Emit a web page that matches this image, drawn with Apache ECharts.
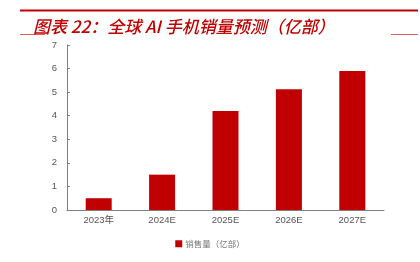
<!DOCTYPE html>
<html><head><meta charset="utf-8">
<script src="https://cdn.jsdelivr.net/npm/echarts@6/dist/echarts.min.js"></script>
<style>html,body{margin:0;padding:0;background:#fff}#c{width:420px;height:262px}</style>
</head><body><div id="c"></div>
<script>
const categories = ['2023年', '2024E', '2025E', '2026E', '2027E'];
const salesValues = [0.5, 1.5, 4.2, 5.12, 5.9];
const seriesName = '销售量（亿部）';
const titleText = '图表 22：全球 AI 手机销量预测（亿部）';

const chart = echarts.init(document.getElementById('c'), null, {renderer: 'canvas'});
chart.setOption({
  animation: false,
  title: {
    text: titleText, left: 28, top: 13,
    textStyle: {color: '#c00000', fontSize: 17, fontStyle: 'italic', fontWeight: 500,
      fontFamily: '"Noto Sans CJK SC", sans-serif'}
  },
  graphic: [
    {type: 'line', shape: {x1: 20, y1: 10.5, x2: 418, y2: 10.5}, style: {stroke: '#c00000', lineWidth: 2}},
    {type: 'line', shape: {x1: 20, y1: 34.5, x2: 45, y2: 34.5}, style: {stroke: '#e06060', lineWidth: 1}},
    {type: 'line', shape: {x1: 391, y1: 34.5, x2: 418, y2: 34.5}, style: {stroke: '#e06060', lineWidth: 1}}
  ],
  legend: {
    data: [seriesName], bottom: 9, left: 'center', itemWidth: 7, itemHeight: 7, icon: 'rect', itemGap: 4,
    textStyle: {color: '#777', fontSize: 8.5, fontFamily: '"Noto Sans CJK SC", sans-serif', padding: [0,0,0,-2]}
  },
  grid: {left: 67, right: 36, top: 45, bottom: 52},
  xAxis: {
    type: 'category', data: categories,
    axisLine: {lineStyle: {color: '#808080', width: 1}},
    axisTick: {inside: true, length: 3, lineStyle: {color: '#808080'}},
    axisLabel: {color: '#555', fontSize: 9.5, margin: 6, fontFamily: 'Arial, "Noto Sans CJK SC", sans-serif'}
  },
  yAxis: {
    type: 'value', min: 0, max: 7, interval: 1,
    axisLine: {show: true, lineStyle: {color: '#808080', width: 1}},
    axisTick: {show: true, inside: true, length: 3, lineStyle: {color: '#808080'}},
    splitLine: {show: false},
    axisLabel: {color: '#555', fontSize: 9.5, margin: 10, fontFamily: 'Arial, sans-serif'}
  },
  series: [{
    name: seriesName, type: 'bar', data: salesValues, barWidth: 26,
    itemStyle: {color: '#c00000'}
  }]
});
</script></body></html>
